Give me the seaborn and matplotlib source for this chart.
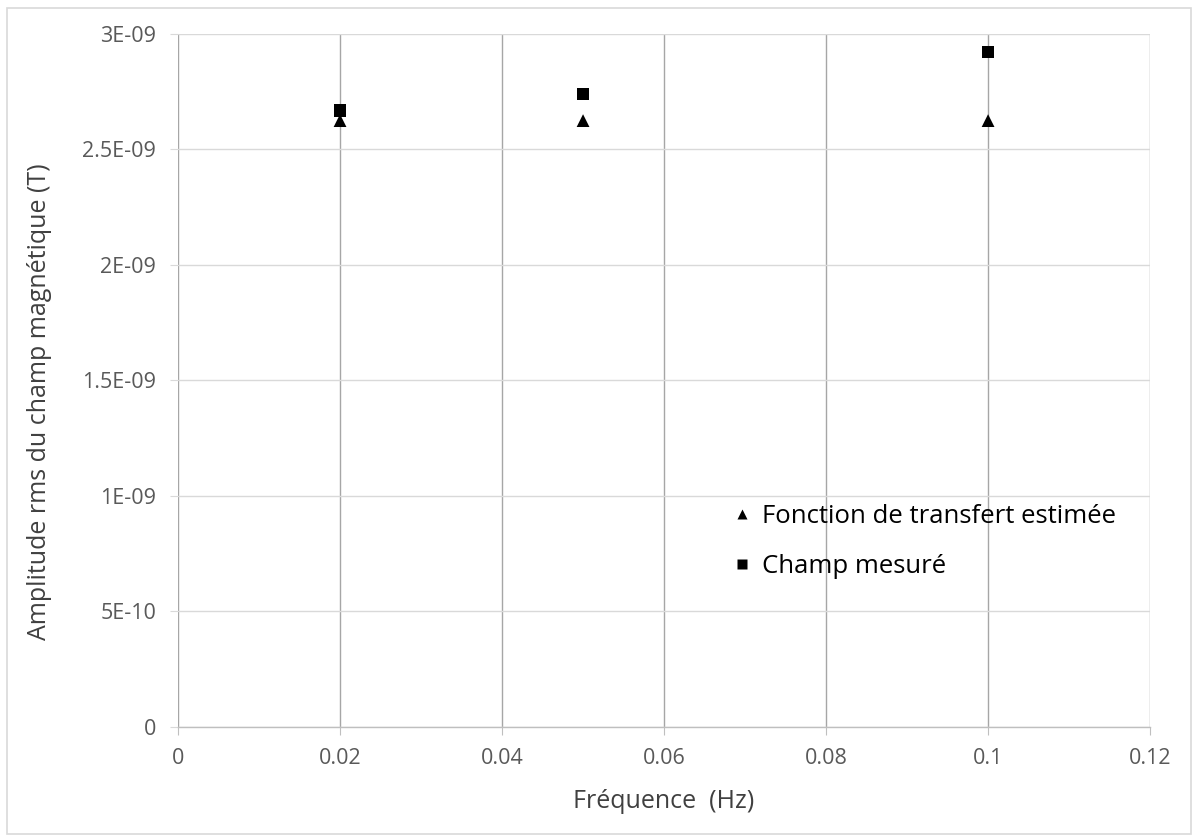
"""Amplitude rms du champ magnétique vs fréquence."""

import matplotlib.pyplot as plt
import pandas as pd
import seaborn as sns
from matplotlib.patches import Rectangle
from matplotlib.ticker import FixedLocator

frequences = [0.02, 0.05, 0.1]
transfert_estime = [2.625e-9, 2.625e-9, 2.625e-9]
champ_mesure = [2.67e-9, 2.74e-9, 2.922e-9]

x_ticks = [0, 0.02, 0.04, 0.06, 0.08, 0.1, 0.12]
x_labels = ["0", "0.02", "0.04", "0.06", "0.08", "0.1", "0.12"]
y_ticks = [0, 5e-10, 1e-9, 1.5e-9, 2e-9, 2.5e-9, 3e-9]
y_labels = ["0", "5E-10", "1E-09", "1.5E-09", "2E-09", "2.5E-09", "3E-09"]

SERIES_T = "Fonction de transfert estimée"
SERIES_C = "Champ mesuré"

df = pd.concat([
    pd.DataFrame({"freq": frequences, "amp": transfert_estime, "serie": SERIES_T}),
    pd.DataFrame({"freq": frequences, "amp": champ_mesure, "serie": SERIES_C}),
])

sns.set_style("white")
plt.rcParams["font.family"] = ["Open Sans", "DejaVu Sans"]

fig = plt.figure(figsize=(11.98, 8.39), dpi=100)
ax = fig.add_axes([0.1486, 0.1335, 0.8114, 0.826])

sns.scatterplot(
    data=df, x="freq", y="amp", hue="serie", style="serie",
    markers={SERIES_T: "^", SERIES_C: "s"},
    palette={SERIES_T: "black", SERIES_C: "black"},
    s=85, edgecolor="none", ax=ax, zorder=3,
)

ax.set_xlim(0, 0.12)
ax.set_ylim(0, 3e-9)
ax.xaxis.set_major_locator(FixedLocator(x_ticks))
ax.set_xticklabels(x_labels)
ax.yaxis.set_major_locator(FixedLocator(y_ticks))
ax.set_yticklabels(y_labels)

ax.grid(axis="x", color="#a6a6a6", linewidth=1.0)
ax.grid(axis="y", color="#d9d9d9", linewidth=1.0)
ax.set_axisbelow(True)

for side in ["top", "right", "left"]:
    ax.spines[side].set_visible(False)
ax.spines["bottom"].set_color("#bfbfbf")
ax.spines["bottom"].set_linewidth(1.0)

ax.tick_params(axis="x", length=5.8, color="#bfbfbf", labelsize=15.5,
               labelcolor="#595959", pad=9.5, bottom=True)
ax.tick_params(axis="y", length=5.8, color="#d9d9d9", labelsize=15.5,
               labelcolor="#595959", pad=10, left=True)

ax.set_xlabel("Fréquence  (Hz)", fontsize=18, color="#404040", labelpad=14)
ax.set_ylabel("Amplitude rms du champ magnétique (T)", fontsize=18,
              color="#404040")
ax.yaxis.set_label_coords(-0.13, 0.47)

handles, labels = ax.get_legend_handles_labels()
leg = ax.legend(handles, labels, loc="upper left", bbox_to_anchor=(0.556, 0.34),
                frameon=False, fontsize=18.5, handlelength=0.8,
                handletextpad=0.4, borderpad=0, labelspacing=0.95,
                markerscale=0.75)
for t in leg.get_texts():
    t.set_color("#000000")

fig.patches.append(Rectangle((0.006, 0.006), 0.988, 0.985, transform=fig.transFigure,
                             fill=False, edgecolor="#d9d9d9", linewidth=1.2))

fig.savefig("out.png", dpi=100)
plt.close(fig)
